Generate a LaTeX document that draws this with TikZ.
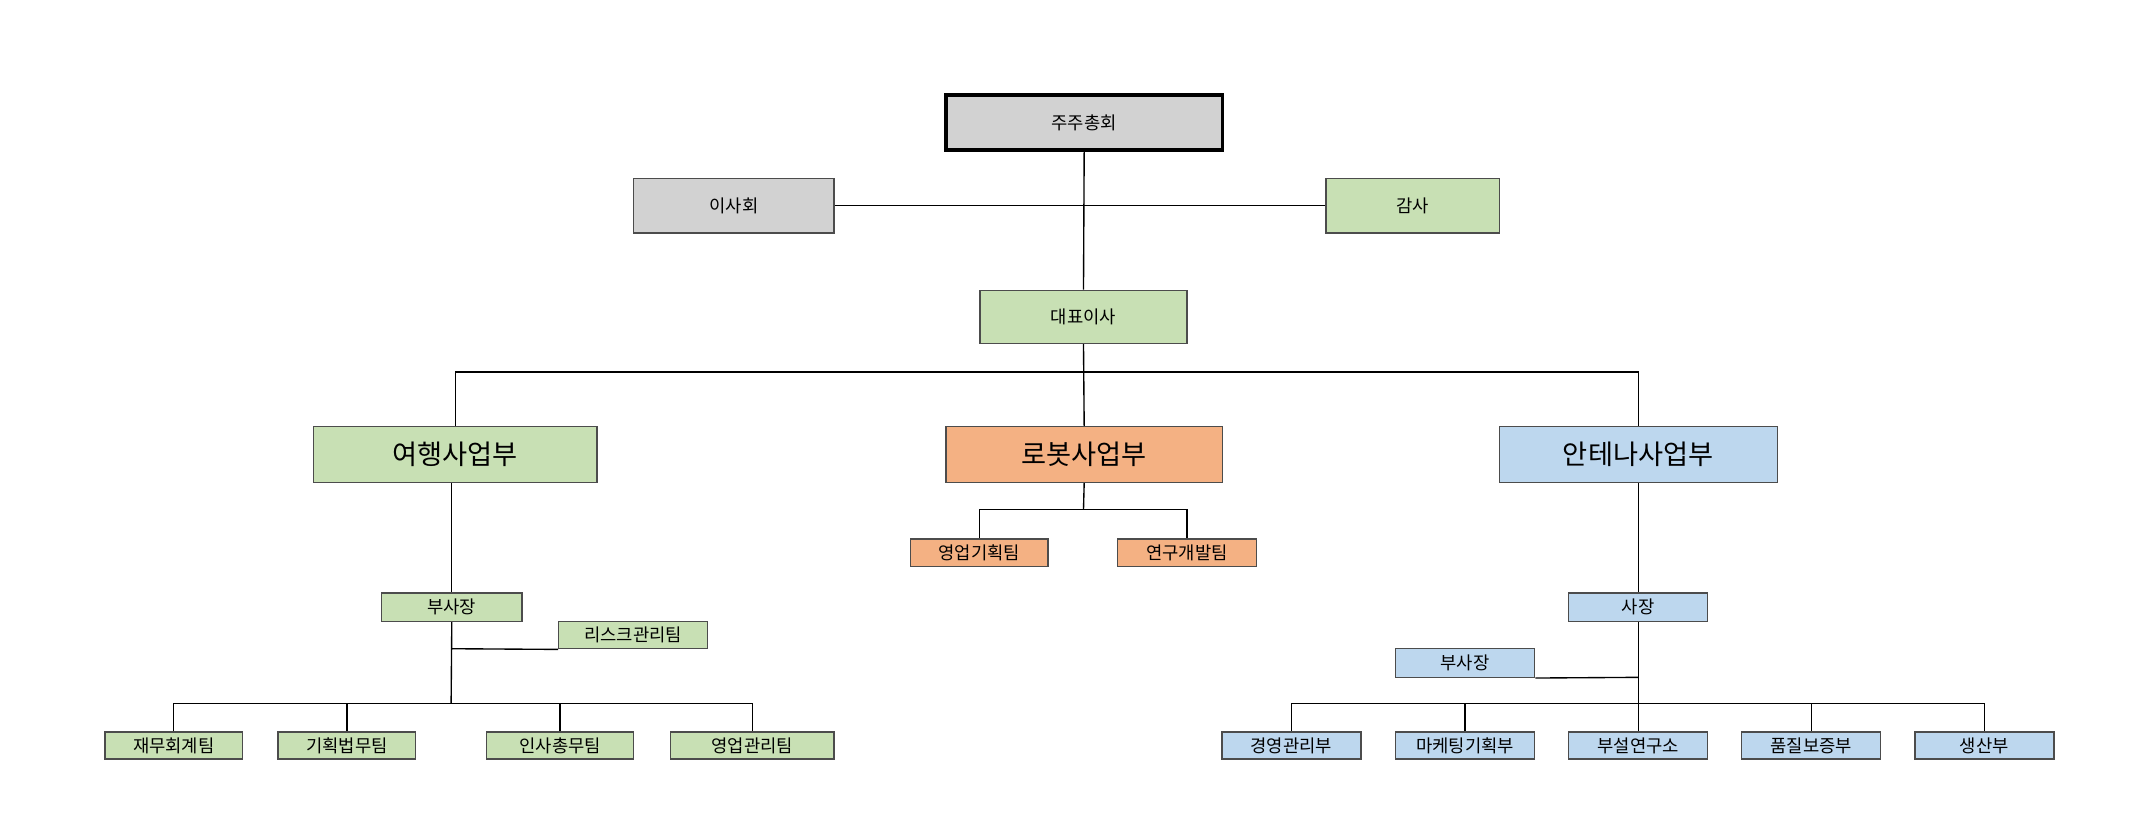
\documentclass[tikz,border=0pt]{standalone}
\usepackage{fontspec}
\setmainfont{Noto Sans CJK KR}
\begin{document}
\begin{tikzpicture}[x=0.5pt,y=-0.5pt,
  b/.style={draw=black!70,line width=0.5pt,inner sep=0pt,font=\fontsize{6.5}{7}\selectfont},
  big/.style={b,font=\fontsize{10}{11}\selectfont},
  gr/.style={fill=gray!35}, gn/.style={fill=green!50!olive!10!white,fill={rgb,255:red,200;green,224;blue,180}},
  og/.style={fill={rgb,255:red,244;green,177;blue,131}}, bl/.style={fill={rgb,255:red,189;green,215;blue,238}},
  l/.style={line width=0.5pt}]
\useasboundingbox (0,0) rectangle (1568,597);
\node[b,gr,draw=black,line width=1.4pt,minimum width=101.5pt,minimum height=20pt] (top) at (795.5,90) {주주총회};
\node[b,gr,minimum width=73.5pt,minimum height=20pt] (isa) at (538.5,151) {이사회};
\node[b,gn,minimum width=63.5pt,minimum height=20pt] (gam) at (1036.5,151) {감사};
\node[b,gn,minimum width=76pt,minimum height=19.5pt] (ceo) at (795,232.5) {대표이사};
\node[big,gn,minimum width=104pt,minimum height=20.5pt] (trv) at (334,333.5) {여행사업부};
\node[big,og,minimum width=101.5pt,minimum height=20.5pt] (rob) at (795.5,333.5) {로봇사업부};
\node[big,bl,minimum width=102pt,minimum height=20.5pt] (ant) at (1202,333.5) {안테나사업부};
\node[b,og,minimum width=50.5pt,minimum height=10pt] (r1) at (718.5,405.5) {영업기획팀};
\node[b,og,minimum width=51pt,minimum height=10pt] (r2) at (871,405.5) {연구개발팀};
\node[b,gn,minimum width=51.5pt,minimum height=10.5pt] (tv) at (331.5,445.5) {부사장};
\node[b,gn,minimum width=54.5pt,minimum height=10pt] (risk) at (464.5,466) {리스크관리팀};
\node[b,gn,minimum width=50.5pt,minimum height=10pt] (t1) at (127.5,547) {재무회계팀};
\node[b,gn,minimum width=50.5pt,minimum height=10pt] (t2) at (254.5,547) {기획법무팀};
\node[b,gn,minimum width=54pt,minimum height=10pt] (t3) at (411,547) {인사총무팀};
\node[b,gn,minimum width=60pt,minimum height=10pt] (t4) at (552,547) {영업관리팀};
\node[b,bl,minimum width=51pt,minimum height=10.5pt] (ap) at (1202,445.5) {사장};
\node[b,bl,minimum width=51pt,minimum height=10.5pt] (av) at (1075,486.5) {부사장};
\node[b,bl,minimum width=51pt,minimum height=10pt] (a1) at (947.5,547) {경영관리부};
\node[b,bl,minimum width=51pt,minimum height=10pt] (a2) at (1075,547) {마케팅기획부};
\node[b,bl,minimum width=51pt,minimum height=10pt] (a3) at (1202,547) {부설연구소};
\node[b,bl,minimum width=51pt,minimum height=10pt] (a4) at (1329,547) {품질보증부};
\node[b,bl,minimum width=51pt,minimum height=10pt] (a5) at (1456,547) {생산부};
% connectors
\draw[l] (isa.east) -- (gam.west);
\draw[l] (top.south) -- (ceo.north);
\coordinate (h1) at (795,273);
\draw[l] (ceo.south) -- (rob.north);
\draw[l] (trv.north) |- (h1) -| (ant.north);
\coordinate (rh) at (795,374);
\draw[l] (rob.south) -- (rh);
\draw[l] (r1.north) |- (rh) -| (r2.north);
\coordinate (lh) at (331,516);
\draw[l] (trv.south -| tv.north) -- (tv.north);
\draw[l] (tv.south) -- (lh);
\draw[l] (risk.west |- risk.south) -- (331,476);
\draw[l] (t1.north) |- (lh) -| (t4.north);
\draw[l] (t2.north) -- (t2.north |- lh);
\draw[l] (t3.north) -- (t3.north |- lh);
\coordinate (rh2) at (1202,516);
\draw[l] (ant.south) -- (ap.north);
\draw[l] (ap.south) -- (a3.north);
\draw[l] (av.east |- av.south) -- (1202,497);
\draw[l] (a1.north) |- (rh2) -| (a5.north);
\draw[l] (a2.north) -- (a2.north |- rh2);
\draw[l] (a4.north) -- (a4.north |- rh2);
\end{tikzpicture}
\end{document}
